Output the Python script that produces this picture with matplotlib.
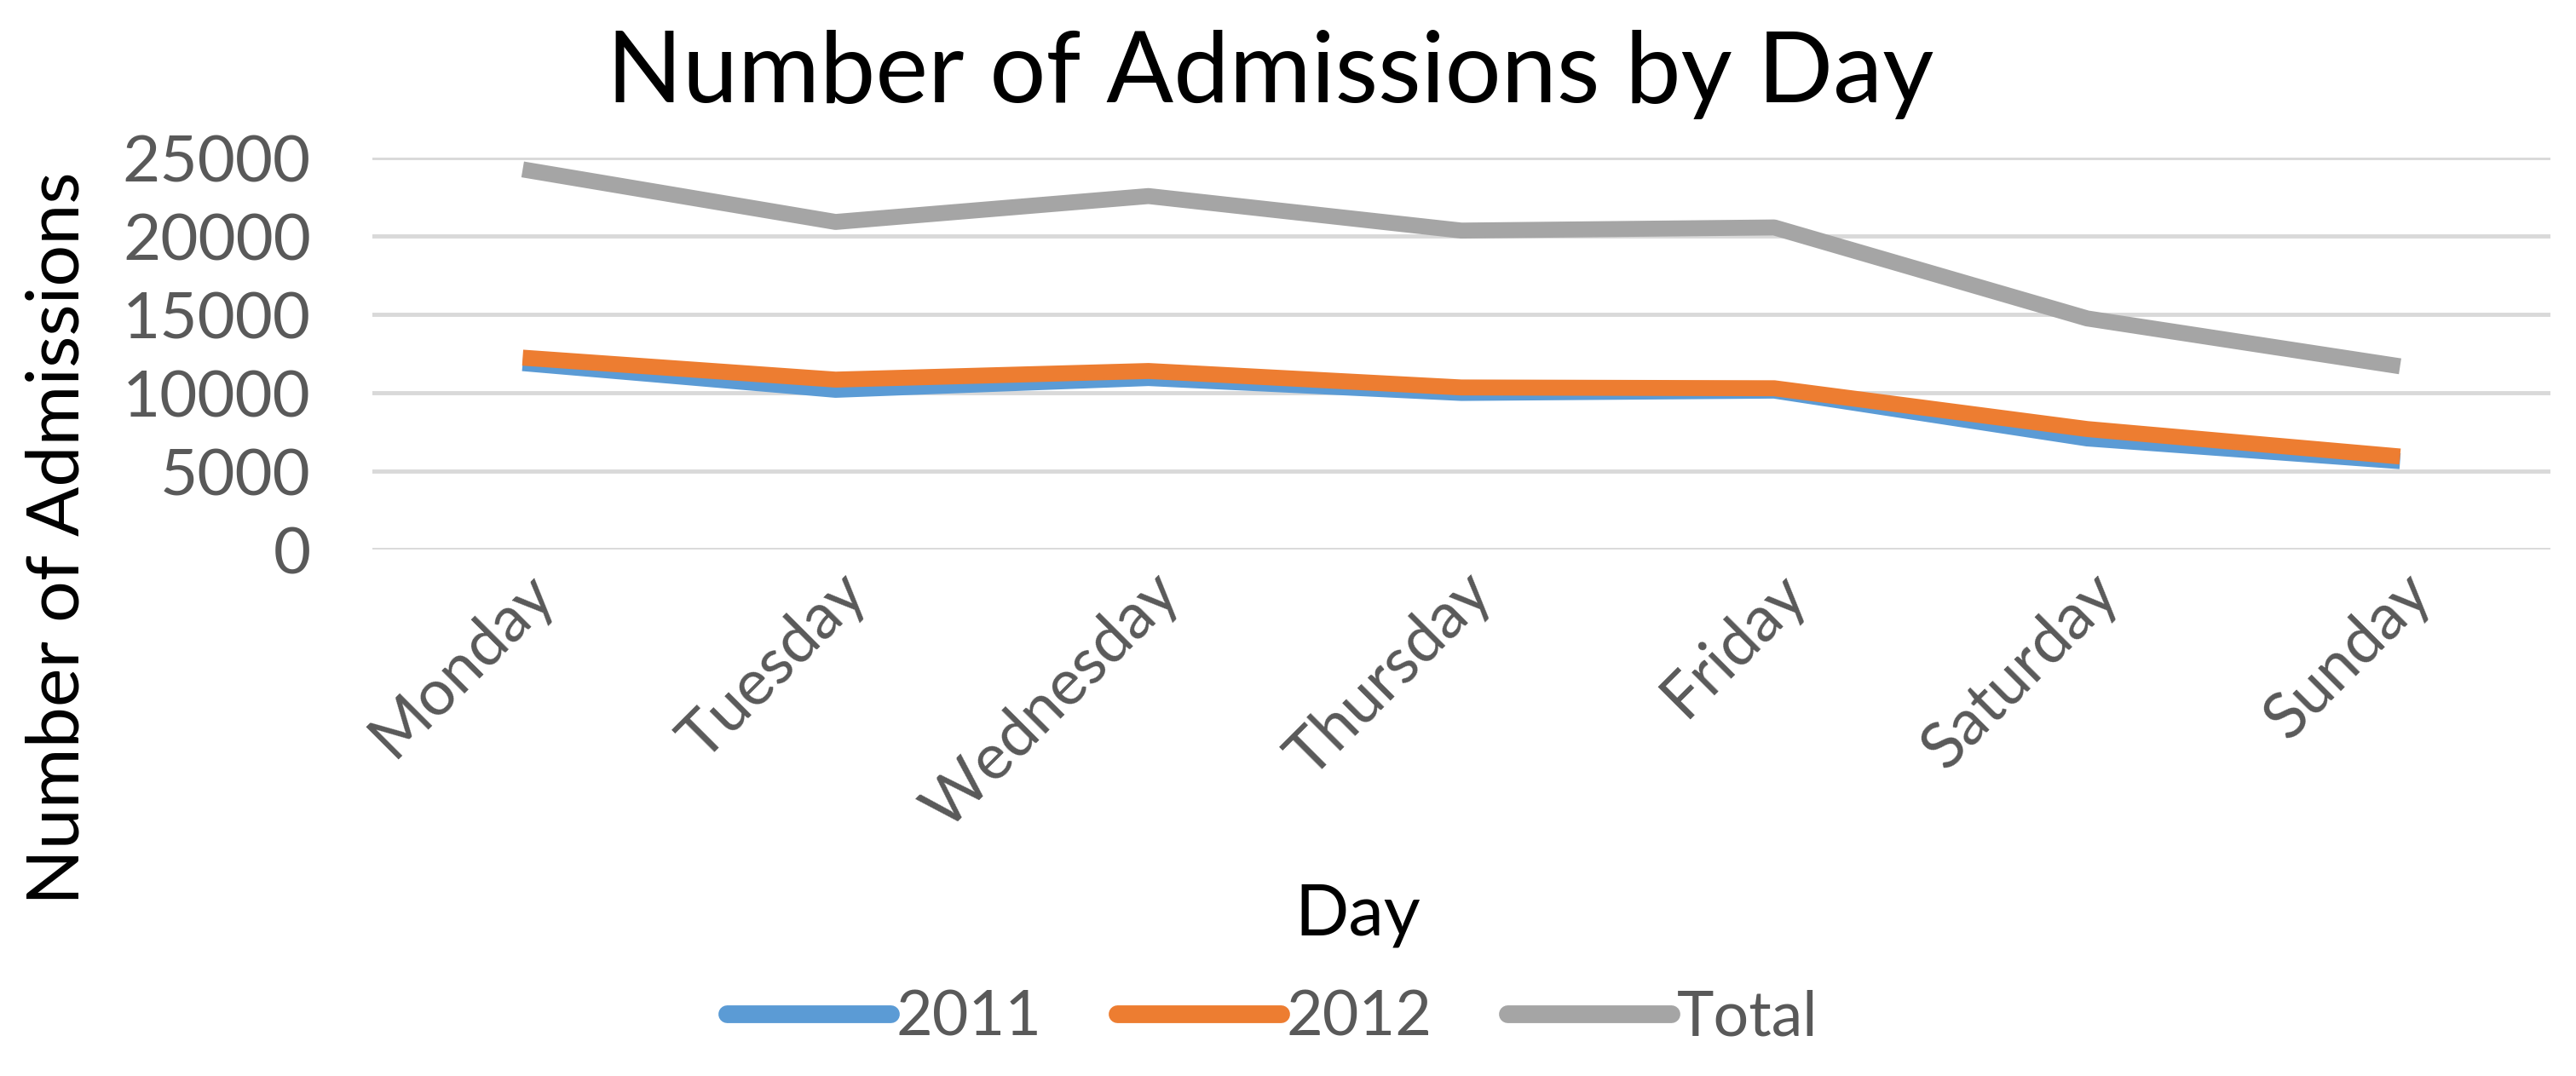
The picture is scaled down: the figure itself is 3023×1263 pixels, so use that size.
import matplotlib
matplotlib.use("Agg")
import matplotlib.pyplot as plt

days = ["Monday", "Tuesday", "Wednesday", "Thursday", "Friday", "Saturday", "Sunday"]
adm_2011 = [11900, 10200, 10950, 10000, 10150, 7100, 5650]
adm_2012 = [12250, 10850, 11400, 10350, 10300, 7700, 5950]
adm_total = [24250, 20900, 22550, 20350, 20550, 14750, 11700]
y_ticks = [0, 5000, 10000, 15000, 20000, 25000]

plt.rcParams['font.family'] = ['Lato', 'DejaVu Sans']

fig = plt.figure(figsize=(30.23, 12.63), dpi=100)
ax = fig.add_axes([0.1446, 0.489, 0.8454, 0.3645])

x = range(len(days))
ax.plot(x, adm_2011, color='#5B9BD5', lw=13.5, label='2011', solid_capstyle='butt', zorder=3)
ax.plot(x, adm_2012, color='#ED7D31', lw=13.5, label='2012', solid_capstyle='butt', zorder=4)
ax.plot(x, adm_total, color='#A5A5A5', lw=13.5, label='Total', solid_capstyle='butt', zorder=5)

ax.set_ylim(0, 25000)
ax.set_xlim(-0.48, 6.48)
ax.set_yticks(y_ticks)
ax.set_yticklabels([str(v) for v in y_ticks], fontsize=55, color='#595959')
ax.set_xticks(list(x))
ax.set_xticklabels(days, fontsize=54, color='#595959', rotation=45,
                   ha='right', rotation_mode='anchor')
ax.tick_params(length=0)
ax.tick_params(axis='y', pad=52)
ax.tick_params(axis='x', pad=10)
ax.grid(axis='y', color='#D9D9D9', lw=3.5)
ax.set_axisbelow(True)
for s in ax.spines.values():
    s.set_visible(False)

fig.text(0.493, 0.931, 'Number of Admissions by Day', fontsize=84, ha='center', va='center')
fig.text(0.0225, 0.5, 'Number of Admissions', fontsize=62, rotation=90, ha='center', va='center')
fig.text(0.527, 0.149, 'Day', fontsize=60, ha='center', va='center')

leg = fig.legend(loc='center', bbox_to_anchor=(0.494, 0.054), ncol=3, frameon=False,
                 fontsize=53, handlelength=2.6, columnspacing=1.2, handletextpad=0.1,
                 labelcolor='#595959')
for h in leg.get_lines():
    h.set_linewidth(15)
    h.set_solid_capstyle('round')

fig.savefig('out.png', dpi=100)
